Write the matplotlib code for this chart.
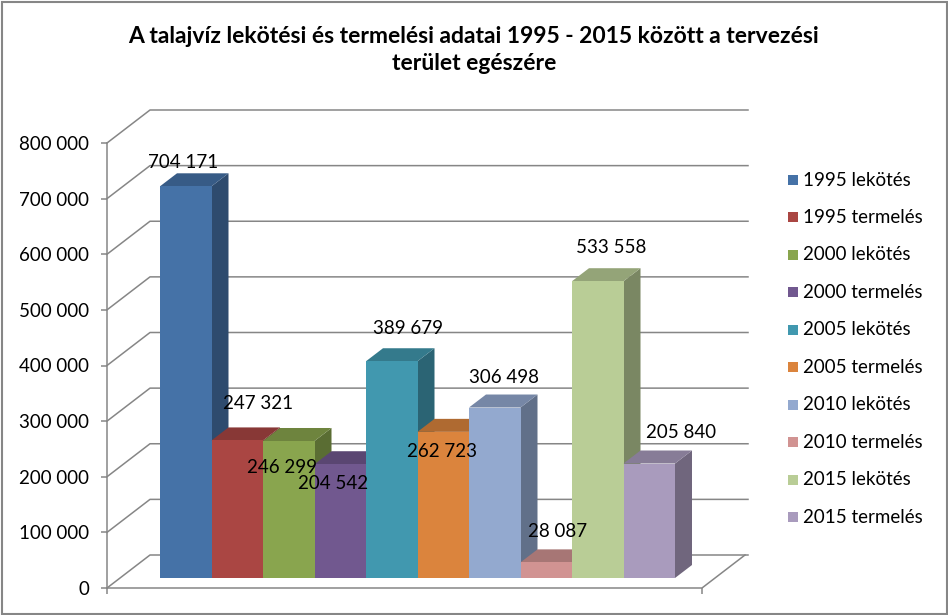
"""Groundwater allocation vs. production 1995-2015, Excel-style 3D column chart."""
import matplotlib
matplotlib.use("Agg")
import matplotlib.pyplot as plt
import numpy as np
from matplotlib.colors import to_rgb
from matplotlib.patches import Polygon, Rectangle

plt.rcParams["font.family"] = ["Lato", "DejaVu Sans"]

TITLE = "A talajvíz lekötési és termelési adatai 1995 - 2015 között a tervezési\nterület egészére"
SERIES = [
    "1995 lekötés", "1995 termelés",
    "2000 lekötés", "2000 termelés",
    "2005 lekötés", "2005 termelés",
    "2010 lekötés", "2010 termelés",
    "2015 lekötés", "2015 termelés",
]
VALUES = [704171, 247321, 246299, 204542, 389679, 262723, 306498, 28087, 533558, 205840]
COLORS = [
    "#4572A7", "#AA4643", "#89A54E", "#71588F", "#4198AF",
    "#DB843D", "#93A9CF", "#D19392", "#B9CD96", "#A99BBD",
]
Y_TICKS = [0, 100000, 200000, 300000, 400000, 500000, 600000, 700000, 800000]

# Excel dropped the data labels at slightly irregular spots; nudges in pixels
LABEL_NUDGE = [(-3, 24), (21, 37), (-7, -27), (-7, -19), (16, 33),
               (-1, -20), (9, 30), (11, 31), (13, 34), (32, 31)]

GRID = "#868686"
FS = 13.5


def fmt(v):
    return f"{v:,}".replace(",", " ")


def shade(color, k):
    return tuple(np.clip(np.array(to_rgb(color)) * k, 0, 1))


W, H = 948, 615
fig = plt.figure(figsize=(W / 100, H / 100), dpi=100)

# plot area in pixels: front axis at x=107, floor at y=588, back wall top at y=110
X0, X1, Y0, Y1 = 107, 748, 588, 110
ax = fig.add_axes([X0 / W, 1 - Y0 / H, (X1 - X0) / W, (Y0 - Y1) / H])
PX_Y = 800000 / 445   # value units per pixel
PX_X = 1 / 51.5       # bar widths per pixel
ax.set_xlim(0, (X1 - X0) * PX_X)
ax.set_ylim(0, (Y0 - Y1) * PX_Y)

WALL_DX, WALL_DY = 43 * PX_X, 33 * PX_Y
FLOOR_END = (702 - X0) * PX_X
GRID_END = (X1 - X0) * PX_X
SHIFT_DX, SHIFT_DY = 13 * PX_X, 10 * PX_Y
DEPTH_DX, DEPTH_DY = 17 * PX_X, 13 * PX_Y
BAR_START = (147 - X0) * PX_X + SHIFT_DX

# walls and gridlines
for v in Y_TICKS:
    ax.plot([0, WALL_DX, GRID_END], [v, v + WALL_DY, v + WALL_DY],
            color=GRID, lw=1.1, zorder=1, clip_on=False)
ax.plot([0, 0], [0, Y_TICKS[-1]], color=GRID, lw=1.1, zorder=1, clip_on=False)
ax.plot([0, FLOOR_END, FLOOR_END + WALL_DX], [0, 0, WALL_DY],
        color=GRID, lw=1.1, zorder=1, clip_on=False)

# bars, left to right so each one hides its neighbour's side face
for i, (v, c) in enumerate(zip(VALUES, COLORS)):
    x = BAR_START + i
    b = SHIFT_DY
    z = 3 + i * 0.1
    side = [(x + 1, b), (x + 1 + DEPTH_DX, b + DEPTH_DY),
            (x + 1 + DEPTH_DX, b + v + DEPTH_DY), (x + 1, b + v)]
    top = [(x, b + v), (x + DEPTH_DX, b + v + DEPTH_DY),
           (x + 1 + DEPTH_DX, b + v + DEPTH_DY), (x + 1, b + v)]
    ax.add_patch(Polygon(side, closed=True, facecolor=shade(c, 0.66), edgecolor="none", zorder=z))
    ax.add_patch(Polygon(top, closed=True, facecolor=shade(c, 0.8), edgecolor="none", zorder=z + 0.01))
    ax.bar(x, v, width=1, bottom=b, align="edge", color=c, edgecolor="none", zorder=z + 0.02)
    dx, dy = LABEL_NUDGE[i]
    ax.annotate(fmt(v), (x + 0.5, b + v), xytext=(dx, dy), textcoords="offset pixels",
                ha="center", va="center", fontsize=FS, color="black", zorder=20)

for s in ax.spines.values():
    s.set_visible(False)
ax.set_yticks(Y_TICKS)
ax.set_yticklabels([fmt(v) for v in Y_TICKS], fontsize=FS)
ax.set_xticks([0, FLOOR_END])
ax.set_xticklabels([])
ax.tick_params(axis="both", length=4, width=1.1, color=GRID, direction="out")
ax.tick_params(axis="y", pad=9)
ax.patch.set_visible(False)

# title
fig.text(0.5, 1 - 50 / H, TITLE, ha="center", va="center", fontsize=16.5,
         fontweight="bold", linespacing=1.4)

# legend
for i, (name, c) in enumerate(zip(SERIES, COLORS)):
    yc = 180 + i * 37.45
    fig.add_artist(Rectangle((788 / W, 1 - (yc + 5) / H), 10 / W, 10 / H,
                             transform=fig.transFigure, facecolor=c, edgecolor="none"))
    fig.text(803 / W, 1 - yc / H, name, ha="left", va="center", fontsize=FS)

# chart border
fig.add_artist(Rectangle((1.5 / W, 1.5 / H), 1 - 3 / W, 1 - 3 / H, transform=fig.transFigure,
                         fill=False, edgecolor=GRID, lw=1.5))

fig.savefig("out.png", dpi=100)
